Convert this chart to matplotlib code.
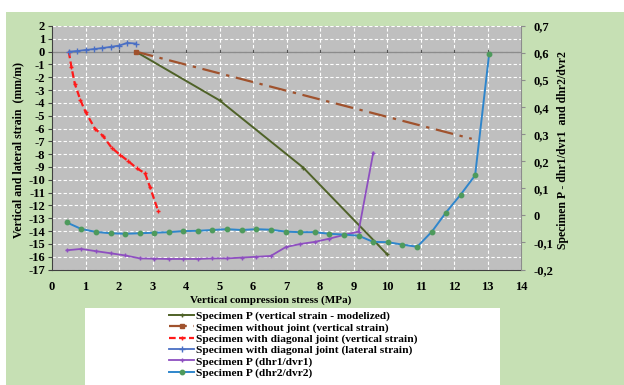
import matplotlib
matplotlib.use("Agg")
import matplotlib.pyplot as plt
from matplotlib.patches import Rectangle
from matplotlib.ticker import FuncFormatter, MultipleLocator

plt.rcParams["font.family"] = ["Liberation Serif", "DejaVu Serif"]
plt.rcParams["font.weight"] = "bold"
plt.rcParams["axes.unicode_minus"] = False

# left axis series (strain, mm/m)
model_x = [2.5, 5.0, 7.5, 10.0]
model_y = [0.0, -3.8, -9.05, -15.8]

nojoint_x = [2.5, 12.53]
nojoint_y = [0.0, -6.8]

diag_vert_x = [0.5, 0.58, 0.68, 0.85, 1.0, 1.28, 1.53, 1.78, 2.03, 2.28, 2.53, 2.78, 2.93, 3.17]
diag_vert_y = [0.0, -1.2, -2.5, -3.8, -4.7, -6.0, -6.6, -7.5, -8.05, -8.55, -9.1, -9.5, -10.6, -12.45]

diag_lat_x = [0.51, 0.76, 1.01, 1.25, 1.5, 1.75, 2.0, 2.25, 2.51]
diag_lat_y = [0.0, 0.05, 0.13, 0.2, 0.28, 0.37, 0.47, 0.68, 0.63]

# right axis series (ratios)
ratio_x = [0.44, 0.87, 1.30, 1.75, 2.18, 2.63, 3.05, 3.49, 3.92, 4.35,
           4.79, 5.22, 5.66, 6.10, 6.53, 6.98, 7.40, 7.84, 8.28, 8.72,
           9.15, 9.59, 10.02, 10.46, 10.90, 11.34, 11.75, 12.20, 12.63, 13.05]
dhr1 = [-0.129, -0.124, -0.132, -0.140, -0.148, -0.159, -0.160, -0.161, -0.161, -0.161,
        -0.159, -0.159, -0.156, -0.153, -0.150, -0.117, -0.106, -0.098, -0.086, -0.072,
        -0.060, 0.232]
dhr2 = [-0.026, -0.050, -0.061, -0.066, -0.068, -0.066, -0.064, -0.062, -0.058, -0.057,
        -0.054, -0.051, -0.054, -0.051, -0.053, -0.060, -0.062, -0.062, -0.068, -0.071,
        -0.075, -0.098, -0.099, -0.108, -0.116, -0.060, 0.009, 0.077, 0.148, 0.598]

labels = ["Specimen P (vertical strain - modelized)",
          "Specimen without joint (vertical strain)",
          "Specimen with diagonal joint (vertical strain)",
          "Specimen with diagonal joint (lateral strain)",
          "Specimen P (dhr1/dvr1)",
          "Specimen P (dhr2/dvr2)"]

green_bg = "#c6e0b4"
plot_bg = "#bfbfbf"

W, H = 624, 385
fig = plt.figure(figsize=(W / 100, H / 100), dpi=100)
fig.patch.set_facecolor("white")
fig.patches.append(Rectangle((6 / W, 0), 1, (H - 12) / H, transform=fig.transFigure,
                             facecolor=green_bg, edgecolor="none", zorder=-2))
fig.patches.append(Rectangle((85 / W, 0), 415 / W, (H - 308) / H, transform=fig.transFigure,
                             facecolor="white", edgecolor="none", zorder=-1))

ax = fig.add_axes([52 / W, (H - 269.5) / H, 469 / W, 243.5 / H])
ax.set_facecolor(plot_bg)
ax.set_xlim(0, 14)
ax.set_ylim(-17, 2)
ax.xaxis.set_major_locator(MultipleLocator(1))
ax.yaxis.set_major_locator(MultipleLocator(1))
ax.grid(True, color="white", linestyle=(0, (3, 2)), linewidth=0.8)
ax.set_axisbelow(True)
ax.axhline(0, color="#8c8c8c", linewidth=1.0, zorder=1)
for t in range(1, 14):
    ax.plot([t, t], [0, 0.15], color="#555555", linewidth=0.8, zorder=1)
for s in ["top", "right"]:
    ax.spines[s].set_visible(False)
for s in ["left", "bottom"]:
    ax.spines[s].set_color("#404040")
ax.tick_params(labelsize=9, length=3, color="#404040", pad=2)
ax.tick_params(axis="x", length=0, pad=8)

h1, = ax.plot(model_x, model_y, color="#4f6228", linewidth=1.4, marker="+", markersize=3)
h2, = ax.plot(nojoint_x, nojoint_y, color="#a0522d", linewidth=1.6,
              linestyle=(0, (8, 3, 1.5, 3)), marker="s", markersize=3, markevery=[0])
h3, = ax.plot(diag_vert_x, diag_vert_y, color="#ff1a1a", linewidth=1.6,
              linestyle=(0, (3, 1.5)), marker="+", markersize=3)
h4, = ax.plot(diag_lat_x, diag_lat_y, color="#4a6fc4", linewidth=1.3, marker="+", markersize=4)

ax2 = ax.twinx()
ax2.set_ylim(-0.2, 0.7)
ax2.yaxis.set_major_locator(MultipleLocator(0.1))
ax2.yaxis.set_major_formatter(FuncFormatter(
    lambda v, p: "0" if abs(v) < 1e-9 else f"{v:.1f}".replace(".", ",")))
for s in ["top", "left", "bottom"]:
    ax2.spines[s].set_visible(False)
ax2.spines["right"].set_color("#8c8c8c")
ax2.tick_params(labelsize=9, length=3, color="#8c8c8c", pad=6)

h5, = ax2.plot(ratio_x[:len(dhr1)], dhr1, color="#8e4fc0", linewidth=1.3, marker="+", markersize=3)
h6, = ax2.plot(ratio_x, dhr2, color="#2f86cc", linewidth=1.4, marker="o", markersize=3.2,
               markerfacecolor="#4e9a5c", markeredgecolor="#4e9a5c")

fig.text(18 / W, 1 - 150 / H, "Vertical and lateral strain  (mm/m)", rotation=90,
         ha="center", va="center", fontsize=8.5)
fig.text(563 / W, 1 - 150 / H, "Specimen P - dhr1/dvr1  and dhr2/dvr2", rotation=90,
         ha="center", va="center", fontsize=8.5)
fig.text(271 / W, 1 - 300 / H, "Vertical compression stress (MPa)",
         ha="center", va="center", fontsize=8)

leg = fig.legend([h1, h2, h3, h4, h5, h6], labels, loc="upper left",
                 bbox_to_anchor=(169 / W, 1 - 311 / H), frameon=False,
                 fontsize=8.2, handlelength=2.2, handletextpad=0.15,
                 labelspacing=0.1, borderpad=0, borderaxespad=0)

fig.savefig("out.png", dpi=100)
